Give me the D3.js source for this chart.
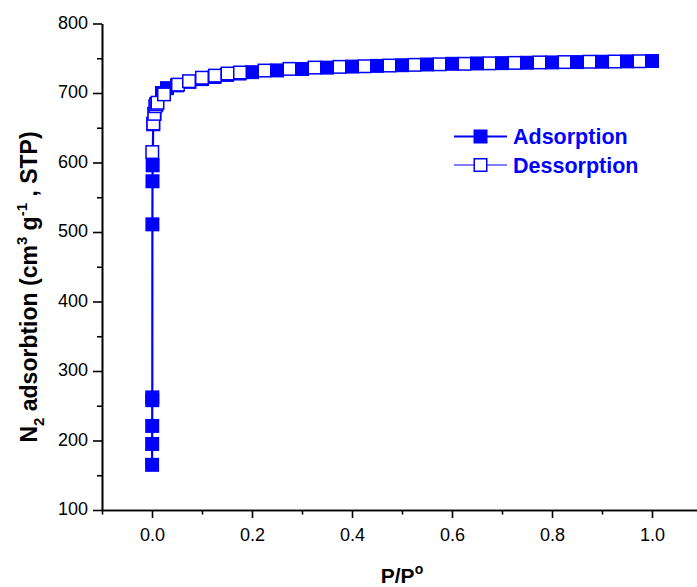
<!DOCTYPE html>
<html>
<head>
<meta charset="utf-8">
<script src="https://cdn.jsdelivr.net/npm/d3@7"></script>
<style>
  html, body { margin: 0; padding: 0; background: #fff; }
  svg { display: block; font-family: Arial, "Liberation Sans", sans-serif; }
</style>
</head>
<body>
<svg id="chart" width="697" height="587"></svg>
<script>
// N2 isotherm: relative pressure P/P° and adsorbed volume (cm3 g-1, STP)
const adsP = [0.0002, 0.0003, 0.0004, 0.0005, 0.0006, 0.0008, 0.0010, 0.0013, 0.0025, 0.005, 0.0085, 0.02, 0.03,
  0.05, 0.075, 0.1, 0.125, 0.15, 0.175, 0.2, 0.25, 0.3, 0.35, 0.4, 0.45, 0.5, 0.55, 0.6, 0.65, 0.7,
  0.75, 0.8, 0.85, 0.9, 0.95, 1.0];
const adsV = [165, 195, 221, 258, 262, 511, 573, 596, 655, 670, 683, 700, 707,
  711, 716, 720, 723, 726, 728, 730, 732.5, 734.5, 736.5, 738, 739, 740, 741, 742, 742.5,
  743, 743.5, 744, 744.5, 745, 745.5, 746];
const desP = [0.0005, 0.0026, 0.0046, 0.0066, 0.0086, 0.011, 0.024, 0.052, 0.074, 0.1, 0.126, 0.151,
  0.176, 0.225, 0.275, 0.325, 0.375, 0.425, 0.475, 0.525, 0.575, 0.625, 0.675, 0.725, 0.775, 0.825,
  0.875, 0.925, 0.975];
const desV = [615, 656, 670, 681, 684, 686, 698, 712, 717, 722, 725, 728,
  729.5, 732.3, 734.7, 736.6, 737.6, 738.5, 739.5, 740.5, 741.3, 742, 742.7, 743.3, 744, 744.5,
  745, 745.3, 745.7];

const xMajor = [0.0, 0.2, 0.4, 0.6, 0.8, 1.0];
const xMinor = [-0.1, 0.1, 0.3, 0.5, 0.7, 0.9];
const yMajor = [100, 200, 300, 400, 500, 600, 700, 800];
const yMinor = [150, 250, 350, 450, 550, 650, 750];
const seriesNames = ["Adsorption", "Dessorption"];

const BLUE = "#0000ff";
const svg = d3.select("#chart");

const x = d3.scaleLinear().domain([-0.1, 1.1]).range([102, 702]);
const y = d3.scaleLinear().domain([100, 800]).range([510, 23.5]);

// axes: major ticks with labels, shorter unlabeled minor ticks
const gx = svg.append("g").attr("transform", `translate(0,${y(100)})`);
gx.call(d3.axisBottom(x).tickValues(xMajor).tickFormat(d3.format(".1f")).tickSize(8).tickSizeOuter(0));
const gxm = svg.append("g").attr("transform", `translate(0,${y(100)})`);
gxm.call(d3.axisBottom(x).tickValues(xMinor).tickFormat("").tickSize(4.5).tickSizeOuter(0));

const gy = svg.append("g").attr("transform", `translate(${x(-0.1)},0)`);
gy.call(d3.axisLeft(y).tickValues(yMajor).tickFormat(d3.format("d")).tickSize(9).tickSizeOuter(0));
const gym = svg.append("g").attr("transform", `translate(${x(-0.1)},0)`);
gym.call(d3.axisLeft(y).tickValues(yMinor).tickFormat("").tickSize(5).tickSizeOuter(0));

[gx, gxm, gy, gym].forEach(g => {
  g.selectAll("path.domain").attr("stroke", "#000").attr("stroke-width", 1.6);
  g.selectAll(".tick line").attr("stroke", "#000").attr("stroke-width", 1.6);
  g.selectAll("text").attr("font-family", "Arial, 'Liberation Sans', sans-serif")
    .attr("font-size", 18).attr("fill", "#000");
});
gx.selectAll("text").attr("dy", null).attr("y", 31);
gy.selectAll("text").attr("x", -14).attr("dy", "0.25em");

// axis titles
const xt = svg.append("text").attr("x", x(0.5)).attr("y", 583).attr("text-anchor", "middle")
  .attr("font-weight", "bold").attr("font-size", 21).attr("fill", "#000");
xt.append("tspan").text("P/P");
xt.append("tspan").attr("font-size", 14).attr("dy", -9).text("o");

const yt = svg.append("text").attr("transform", `translate(37,${(133 + 441) / 2}) rotate(-90)`)
  .attr("text-anchor", "middle").attr("font-weight", "bold").attr("font-size", 23).attr("fill", "#000");
yt.append("tspan").text("N");
yt.append("tspan").attr("font-size", 15).attr("dy", 7).text("2");
yt.append("tspan").attr("dy", -7).text(" adsorbtion (cm");
yt.append("tspan").attr("font-size", 15).attr("dy", -10).text("3");
yt.append("tspan").attr("dy", 10).text(" g");
yt.append("tspan").attr("font-size", 15).attr("dy", -10).text("-1");
yt.append("tspan").attr("dy", 10).text(" , STP)");

// series: adsorption (filled squares, thick line) under desorption (open squares, thin line)
const ads = adsP.map((p, i) => [p, adsV[i]]);
const des = desP.map((p, i) => [p, desV[i]]);
const line = d3.line().x(d => x(d[0])).y(d => y(d[1]));
const S = 14;

svg.append("path").datum(ads).attr("d", line).attr("fill", "none")
  .attr("stroke", BLUE).attr("stroke-width", 2.2);
svg.append("g").selectAll("rect").data(ads).join("rect")
  .attr("x", d => x(d[0]) - S / 2).attr("y", d => y(d[1]) - S / 2)
  .attr("width", S).attr("height", S).attr("fill", BLUE);

svg.append("path").datum(des).attr("d", line).attr("fill", "none")
  .attr("stroke", BLUE).attr("stroke-width", 1.2);
svg.append("g").selectAll("rect").data(des).join("rect")
  .attr("x", d => x(d[0]) - (S - 1.5) / 2).attr("y", d => y(d[1]) - (S - 1.5) / 2)
  .attr("width", S - 1.5).attr("height", S - 1.5).attr("fill", "#fff")
  .attr("stroke", BLUE).attr("stroke-width", 1.5);

// legend
const legend = svg.append("g");
seriesNames.forEach((name, i) => {
  const ly = 136.5 + i * 28.5;
  const g = legend.append("g");
  g.append("line").attr("x1", 454).attr("x2", 507).attr("y1", ly).attr("y2", ly)
    .attr("stroke", BLUE).attr("stroke-width", i === 0 ? 2.2 : 1.2);
  if (i === 0) {
    g.append("rect").attr("x", 480.5 - S / 2).attr("y", ly - S / 2).attr("width", S).attr("height", S)
      .attr("fill", BLUE);
  } else {
    g.append("rect").attr("x", 480.5 - (S - 1.5) / 2).attr("y", ly - (S - 1.5) / 2)
      .attr("width", S - 1.5).attr("height", S - 1.5).attr("fill", "#fff")
      .attr("stroke", BLUE).attr("stroke-width", 1.5);
  }
  g.append("text").attr("x", 513).attr("y", ly + 7.5).attr("font-size", 21.5)
    .attr("font-weight", "bold").attr("fill", BLUE).text(name);
});
</script>
</body>
</html>
